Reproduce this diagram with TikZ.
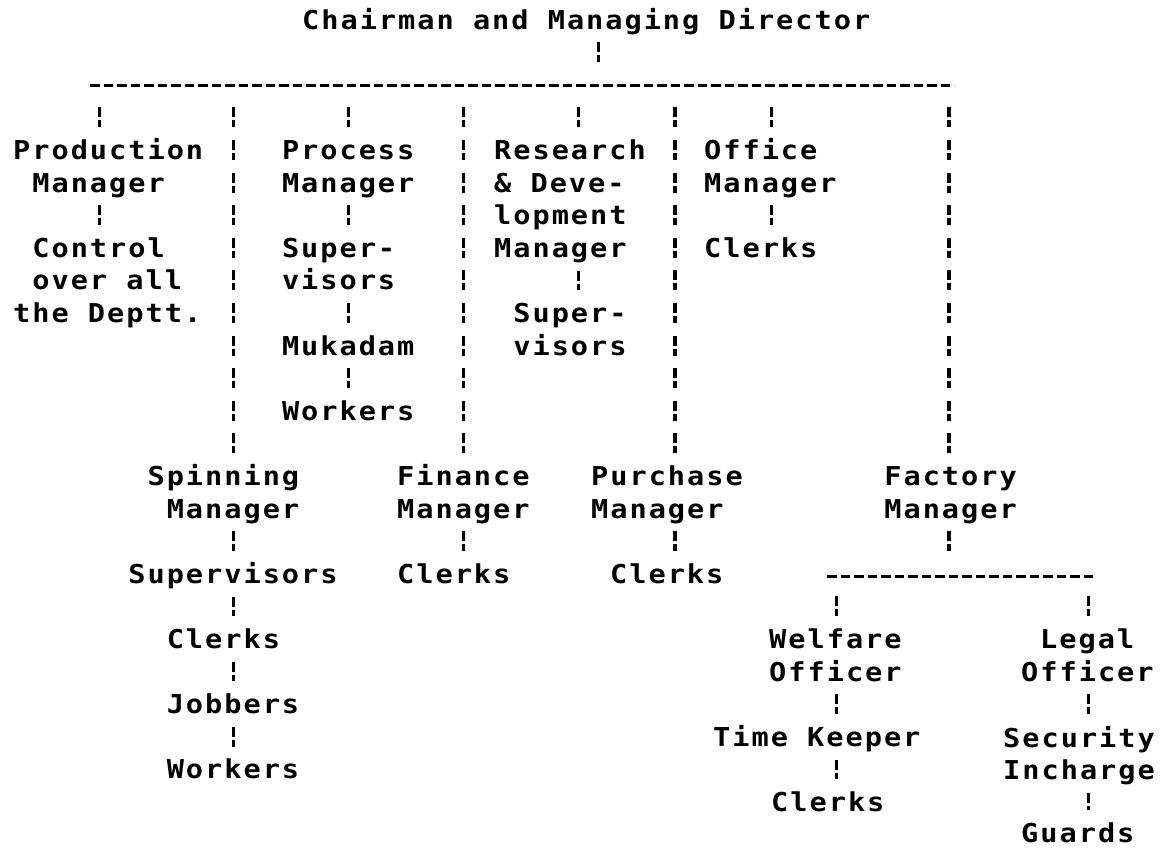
\documentclass[tikz,border=0pt]{standalone}
\usepackage{fontspec}
% Dot-matrix look: a bold monospaced face, slightly widened and tracked
% out to a 19.2pt character pitch
\newfontfamily\dotfont{DejaVu Sans Mono}[FakeStretch=1.1,LetterSpace=7.62]
\begin{document}
\begin{tikzpicture}[x=1pt,y=-1pt,
  lbl/.style={inner sep=0pt, anchor=base west, text height=19pt, text depth=3pt,
              font=\dotfont\bfseries\fontsize{26}{26}\selectfont},
  % a column of printed colons, one glyph per text row (row pitch 32.6pt)
  colon/.style={line width=3.3pt, dash pattern=on 10pt off 3pt on 7pt off 12.6pt},
  hbus/.style={line width=2.8pt, dash pattern=on 9.5pt off 4pt},
  fromtext/.style={shorten <=10.1pt},
  totext/.style={shorten >=13.1pt},
  frombus/.style={shorten <=22.1pt},
  tobus/.style={shorten >=23.1pt}]

\fill[white] (0,0) rectangle (1162,847);
\useasboundingbox (0,0) rectangle (1162,847);

% ---- text lines (left edge on the character grid, baseline per row) ----
\node[lbl] (title) at (302,29) {Chairman and Managing Director};

\node[lbl] (prodA) at (13,159.4)    {Production};
\node[lbl] (prodB) at (32.2,192)    {Manager};
\node[lbl] (prodC) at (32.2,257.2)  {Control};
\node[lbl] (prodD) at (32.2,289.8)  {over all};
\node[lbl] (prodE) at (13,322.4)    {the Deptt.};

\node[lbl] (procA) at (281.8,159.4) {Process};
\node[lbl] (procB) at (281.8,192)   {Manager};
\node[lbl] (procC) at (281.8,257.2) {Super-};
\node[lbl] (procD) at (281.8,289.8) {visors};
\node[lbl] (procE) at (281.8,355)   {Mukadam};
\node[lbl] (procF) at (281.8,420.2) {Workers};

\node[lbl] (rdA) at (494,159.4) {Research};
\node[lbl] (rdB) at (494,192)   {\& Deve-};
\node[lbl] (rdC) at (494,224.6) {lopment};
\node[lbl] (rdD) at (494,257.2) {Manager};
\node[lbl] (rdE) at (513.2,322.4) {Super-};
\node[lbl] (rdF) at (513.2,355)   {visors};

\node[lbl] (offA) at (704,159.4) {Office};
\node[lbl] (offB) at (704,192)   {Manager};
\node[lbl] (offC) at (704,257.2) {Clerks};

\node[lbl] (spA) at (147.4,485.4) {Spinning};
\node[lbl] (spB) at (166.6,518)   {Manager};
\node[lbl] (spC) at (128.2,583.2) {Supervisors};
\node[lbl] (spD) at (166.6,648.4) {Clerks};
\node[lbl] (spE) at (166.6,713.6) {Jobbers};
\node[lbl] (spF) at (166.6,778.8) {Workers};

\node[lbl] (finA) at (397,485.4) {Finance};
\node[lbl] (finB) at (397,518)   {Manager};
\node[lbl] (finC) at (397,583.2) {Clerks};

\node[lbl] (purA) at (591,485.4)   {Purchase};
\node[lbl] (purB) at (591,518)     {Manager};
\node[lbl] (purC) at (610,583.2)   {Clerks};

\node[lbl] (facA) at (884.2,485.4) {Factory};
\node[lbl] (facB) at (884.2,518)   {Manager};

\node[lbl] (welA) at (769,648.4) {Welfare};
\node[lbl] (welB) at (769,681)   {Officer};
\node[lbl] (welC) at (713,746.2) {Time Keeper};
\node[lbl] (welD) at (771,811.4) {Clerks};

\node[lbl] (legA) at (1040,648.4) {Legal};
\node[lbl] (legB) at (1021,681)   {Officer};
\node[lbl] (legC) at (1003,747.5) {Security};
\node[lbl] (legD) at (1003,779.5) {Incharge};
\node[lbl] (legE) at (1021,842.5) {Guards};

% ---- horizontal buses and the points where the columns leave them ----
\coordinate (busL) at (90,85.2);
\coordinate (busR) at (954,85.2);
\coordinate (t0) at (598.6,85.2);
\coordinate (t1) at (99.4,85.2);
\coordinate (t2) at (233.8,85.2);
\coordinate (t3) at (348.6,85.2);
\coordinate (t4) at (463.4,85.2);
\coordinate (t5) at (578.2,85.2);
\coordinate (t6) at (675,85.2);
\coordinate (t7) at (771.4,85.2);
\coordinate (t8) at (949,85.2);

\coordinate (fbusL) at (827,576.2);
\coordinate (fbusR) at (1094,576.2);
\coordinate (f0) at (949,576.2);
\coordinate (f1) at (836.2,576.2);
\coordinate (f2) at (1088.2,576.2);

\draw[hbus] (busL) -- (busR);
\draw[hbus] (fbusL) -- (fbusR);

% ---- colon connectors ----
\draw[colon, fromtext, tobus] (title.south -| t0) -- (t0);

\draw[colon, frombus, totext] (t1) -- (t1 |- prodA.north);
\draw[colon, frombus, totext] (t3) -- (t3 |- procA.north);
\draw[colon, frombus, totext] (t5) -- (t5 |- rdA.north);
\draw[colon, frombus, totext] (t7) -- (t7 |- offA.north);
\draw[colon, frombus, totext] (t2) -- (t2 |- spA.north);
\draw[colon, frombus, totext] (t4) -- (t4 |- finA.north);
\draw[colon, frombus, totext] (t6) -- (t6 |- purA.north);
\draw[colon, frombus, totext] (t8) -- (t8 |- facA.north);

\draw[colon, fromtext, totext] (prodB.south -| t1) -- (prodC.north -| t1);
\draw[colon, fromtext, totext] (procB.south -| t3) -- (procC.north -| t3);
\draw[colon, fromtext, totext] (procD.south -| t3) -- (procE.north -| t3);
\draw[colon, fromtext, totext] (procE.south -| t3) -- (procF.north -| t3);
\draw[colon, fromtext, totext] (rdD.south -| t5) -- (rdE.north -| t5);
\draw[colon, fromtext, totext] (offB.south -| t7) -- (offC.north -| t7);

\draw[colon, fromtext, totext] (spB.south -| t2) -- (spC.north -| t2);
\draw[colon, fromtext, totext] (spC.south -| t2) -- (spD.north -| t2);
\draw[colon, fromtext, totext] (spD.south -| t2) -- (spE.north -| t2);
\draw[colon, fromtext, totext] (spE.south -| t2) -- (spF.north -| t2);
\draw[colon, fromtext, totext] (finB.south -| t4) -- (finC.north -| t4);
\draw[colon, fromtext, totext] (purB.south -| t6) -- (purC.north -| t6);

\draw[colon, fromtext, shorten >=25.1pt] (facB.south -| f0) -- (f0);
\draw[colon, shorten <=20.1pt, totext] (f1) -- (f1 |- welA.north);
\draw[colon, shorten <=20.1pt, totext] (f2) -- (f2 |- legA.north);

\draw[colon, fromtext, totext] (welB.south -| f1) -- (welC.north -| f1);
\draw[colon, fromtext, totext] (welC.south -| f1) -- (welD.north -| f1);
\draw[colon, fromtext, totext] (legB.south -| f2) -- (legC.north -| f2);
\draw[colon, fromtext, totext] (legD.south -| f2) -- (legE.north -| f2);

\end{tikzpicture}
\end{document}
